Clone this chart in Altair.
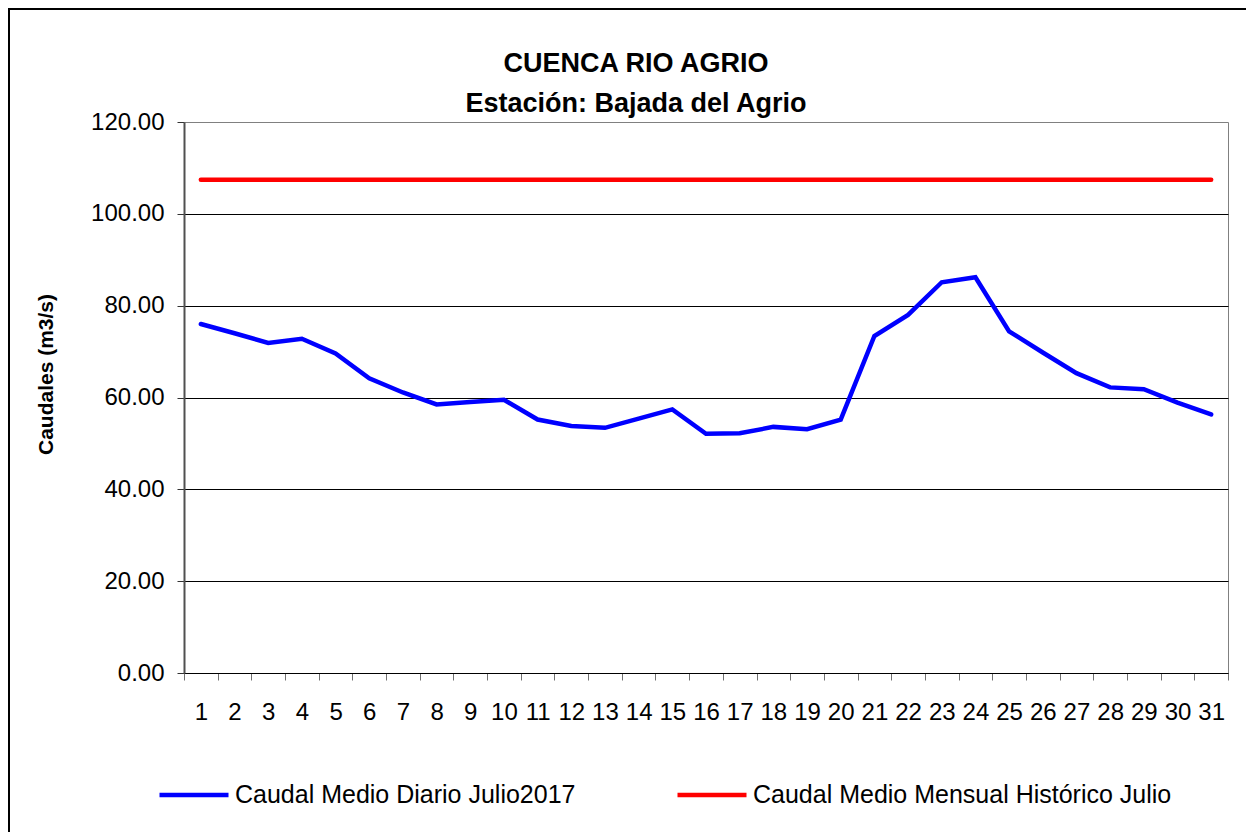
import altair as alt
import pandas as pd

# ---- data ----
days = list(range(1, 32))
daily_flow = [76.0, 74.0, 71.9, 72.8, 69.6, 64.2, 61.1, 58.5, 59.0, 59.5,
              55.2, 53.8, 53.4, 55.4, 57.4, 52.1, 52.2, 53.6, 53.1, 55.2,
              73.4, 78.0, 85.1, 86.2, 74.4, 69.8, 65.3, 62.2, 61.8, 58.9, 56.3]
historic_mean = 107.4
historic_flow = [historic_mean] * len(days)

series_daily = "Caudal Medio Diario Julio2017"
series_hist = "Caudal Medio Mensual Histórico Julio"
y_ticks = [0, 20, 40, 60, 80, 100, 120]
title_line1 = "CUENCA RIO AGRIO"
title_line2 = "Estación: Bajada del Agrio"
y_title = "Caudales (m3/s)"

df = pd.DataFrame({
    "day": days + days,
    "value": daily_flow + historic_flow,
    "serie": [series_daily] * len(days) + [series_hist] * len(days),
})

boundaries = [d - 0.5 for d in days] + [days[-1] + 0.5]
x_axis_values = sorted(days + boundaries)

W, H = 1044, 551
FONT = "Liberation Sans"

lines = alt.Chart(df).mark_line(strokeWidth=4.5, strokeCap="round").encode(
    x=alt.X(
        "day:Q",
        scale=alt.Scale(domain=[0.5, 31.5], nice=False, zero=False),
        axis=alt.Axis(
            values=x_axis_values,
            title=None,
            grid=False,
            labelExpr="datum.value % 1 === 0 ? format(datum.value, 'd') : ''",
            tickOpacity={"condition": {"test": "datum.value % 1 === 0", "value": 0}, "value": 1},
            tickSize=7,
            tickColor="#707070",
            labelPadding=20,
            labelFontSize=24,
            labelFont=FONT,
            labelColor="black",
            labelOverlap=False,
            labelFlush=False,
            labelBound=False,
            domainColor="black",
            domainWidth=1,
        ),
    ),
    y=alt.Y(
        "value:Q",
        scale=alt.Scale(domain=[0, 120], nice=False),
        axis=alt.Axis(
            values=y_ticks,
            format=".2f",
            title=y_title,
            titleFont=FONT,
            titleFontSize=21,
            titleFontWeight="bold",
            titleColor="black",
            titleAngle=270,
            titleAlign="center",
            titleBaseline="middle",
            titleX=-138,
            titleY=252,
            labelFont=FONT,
            labelFontSize=24,
            labelColor="black",
            labelPadding=13,
            tickSize=7,
            tickColor="#333333",
            domainColor="#505050",
            domainWidth=2,
            grid=True,
            gridColor="black",
            gridWidth=1,
            gridOpacity={"condition": {"test": "datum.value >= 120", "value": 0}, "value": 1},
        ),
    ),
    color=alt.Color(
        "serie:N",
        scale=alt.Scale(domain=[series_daily, series_hist], range=["#0000FF", "#FF0000"]),
        legend=alt.Legend(
            orient="none",
            legendX=-27,
            legendY=636,
            direction="horizontal",
            title=None,
            symbolType="stroke",
            symbolSize=4761,
            symbolStrokeWidth=4.5,
            labelFont=FONT,
            labelFontSize=25,
            labelColor="black",
            labelOffset=4,
            labelLimit=700,
            columnPadding=92,
            padding=0,
        ),
    ),
)

one_row = pd.DataFrame({"k": [0]})
top_rule = alt.Chart(one_row).mark_rule(color="black", strokeWidth=2).encode(
    x=alt.value(-176), x2=alt.value(W + 18), y=alt.value(-113)
)
left_rule = alt.Chart(one_row).mark_rule(color="black", strokeWidth=2).encode(
    x=alt.value(-175), y=alt.value(-114), y2=alt.value(H + 159)
)

title_style = dict(font=FONT, fontSize=27, fontWeight="bold", color="black",
                   align="center", baseline="alphabetic")
title1 = alt.Chart(one_row).mark_text(**title_style).encode(
    text=alt.value(title_line1), x=alt.value(452), y=alt.value(-50)
)
title2 = alt.Chart(one_row).mark_text(**title_style).encode(
    text=alt.value(title_line2), x=alt.value(452), y=alt.value(-10)
)

chart = alt.layer(lines, top_rule, left_rule, title1, title2).properties(
    width=W,
    height=H,
    autosize=alt.AutoSizeParams(type="none"),
    padding={"left": 176, "top": 114, "right": 18, "bottom": 159},
    background="white",
).configure_view(stroke="#808080", strokeWidth=1)

chart.save("out.html", embed_options={"renderer": "svg", "actions": False})
